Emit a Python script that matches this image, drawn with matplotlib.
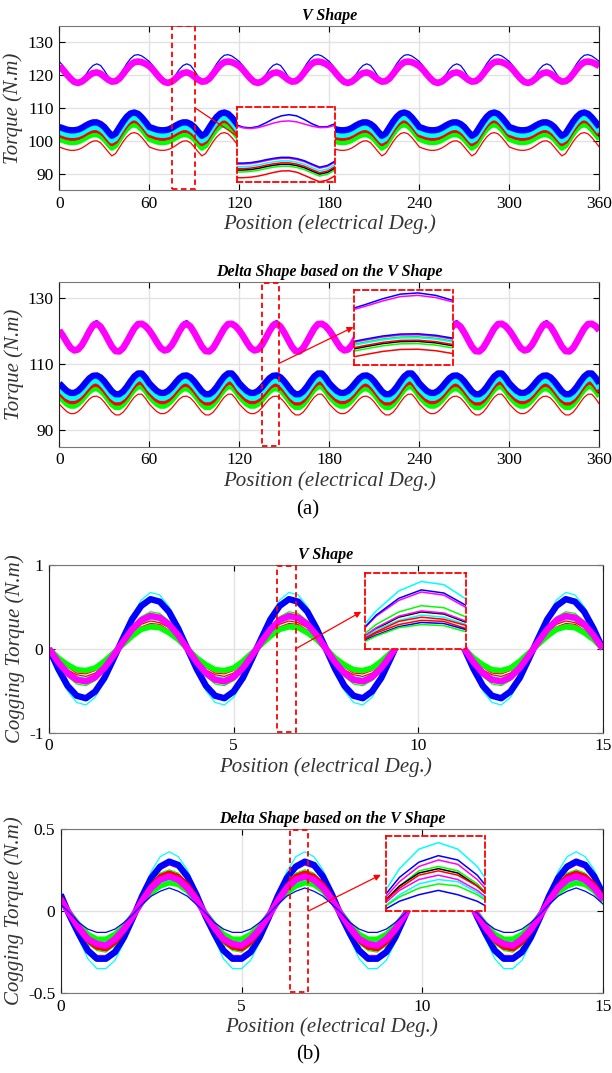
import numpy as np
import matplotlib.pyplot as plt
from matplotlib.patches import Rectangle

plt.rcParams['font.family'] = ['Liberation Serif', 'DejaVu Serif']
plt.rcParams['axes.unicode_minus'] = False

# ---------------- data ----------------
# torque curves: one 60 deg electrical period, read every 2.5 deg (repeats 6x)
# V shape
v_mag_up = [122.7, 121.6, 120.2, 118.9, 117.9, 117.6, 118.0, 118.9, 119.9, 120.6, 120.8, 120.4,
            119.5, 118.6, 118.0, 118.1, 118.9, 120.3, 121.8, 123.1, 123.9, 124.1, 123.9, 123.4]
v_blue_up = [124.1, 122.8, 121.1, 119.4, 118.2, 117.9, 118.5, 120.0, 121.7, 122.9, 123.4, 122.9,
             121.4, 119.6, 118.3, 118.4, 119.6, 121.6, 123.5, 125.0, 126.0, 126.2, 125.8, 125.0]
v_blue = [104.2, 103.8, 103.4, 103.2, 103.2, 103.4, 103.9, 104.6, 105.2, 105.6, 105.6, 105.1,
          104.2, 102.8, 101.5, 102.2, 104.0, 105.8, 107.3, 108.3, 108.6, 108.2, 107.1, 105.7]
v_mag_lo = [103.8, 103.4, 103.0, 102.8, 102.8, 103.0, 103.5, 104.2, 104.8, 105.2, 105.2, 104.7,
            103.8, 102.4, 101.1, 101.8, 103.6, 105.4, 106.9, 107.9, 108.2, 107.8, 106.7, 105.3]
v_cyan = [102.7, 102.3, 101.9, 101.7, 101.7, 101.9, 102.4, 103.1, 103.7, 104.1, 104.1, 103.6,
          102.7, 101.3, 100.0, 100.7, 102.5, 104.3, 105.8, 106.8, 107.1, 106.7, 105.6, 104.2]
v_red = [101.9, 101.5, 101.1, 100.9, 100.9, 101.1, 101.6, 102.3, 102.9, 103.3, 103.3, 102.8,
         101.9, 100.5, 99.2, 99.9, 101.7, 103.5, 105.0, 106.0, 106.3, 105.9, 104.8, 103.4]
v_black = [101.3, 100.9, 100.5, 100.3, 100.3, 100.5, 101.0, 101.7, 102.3, 102.7, 102.7, 102.2,
           101.3, 99.9, 98.6, 99.3, 101.1, 102.9, 104.4, 105.4, 105.7, 105.3, 104.2, 102.8]
v_green = [100.5, 100.1, 99.7, 99.5, 99.5, 99.7, 100.2, 100.9, 101.5, 101.9, 101.9, 101.4,
           100.5, 99.1, 97.8, 98.5, 100.3, 102.1, 103.6, 104.6, 104.9, 104.5, 103.4, 102.0]
v_red_thin = [98.1, 97.7, 97.3, 97.1, 97.1, 97.3, 97.8, 98.5, 99.3, 99.9, 100.0, 99.4,
              98.1, 96.7, 95.4, 96.1, 97.9, 99.7, 101.2, 102.2, 102.5, 102.1, 101.0, 99.6]

# Delta shape based on the V shape
d_mag_up = [120.3, 118.6, 116.7, 115.0, 114.2, 114.5, 115.8, 117.8, 120.0, 121.8, 122.3, 121.4,
            119.6, 117.5, 115.4, 114.0, 113.9, 114.9, 116.8, 118.9, 120.9, 122.2, 122.3, 121.6]
d_blue_up = [120.6, 118.9, 117.0, 115.3, 114.6, 114.9, 116.3, 118.5, 120.9, 122.8, 123.3, 122.3,
             120.2, 117.9, 115.7, 114.3, 114.2, 115.2, 117.1, 119.2, 121.2, 122.5, 122.6, 121.9]
d_blue = [104.2, 103.0, 101.9, 101.3, 101.3, 101.9, 103.0, 104.4, 105.7, 106.5, 106.6, 106.0,
          104.8, 103.3, 101.8, 100.9, 100.9, 101.7, 103.1, 104.8, 106.3, 107.2, 107.2, 105.9]
d_mag_lo = [103.8, 102.6, 101.5, 100.9, 100.9, 101.5, 102.6, 104.0, 105.3, 106.1, 106.2, 105.6,
            104.4, 102.9, 101.4, 100.5, 100.5, 101.3, 102.7, 104.4, 105.9, 106.8, 106.8, 105.5]
d_green_thin = [103.0, 101.8, 100.7, 100.1, 100.1, 100.7, 101.8, 103.2, 104.5, 105.3, 105.4, 104.8,
                103.6, 102.1, 100.6, 99.7, 99.7, 100.5, 101.9, 103.6, 105.1, 106.0, 106.0, 104.7]
d_cyan = [102.6, 101.4, 100.3, 99.7, 99.7, 100.3, 101.4, 102.8, 104.1, 104.9, 105.0, 104.4,
          103.2, 101.7, 100.2, 99.3, 99.3, 100.1, 101.5, 103.2, 104.7, 105.6, 105.6, 104.3]
d_red = [101.6, 100.4, 99.3, 98.7, 98.7, 99.3, 100.4, 101.8, 103.1, 103.9, 104.0, 103.4,
         102.2, 100.7, 99.2, 98.3, 98.3, 99.1, 100.5, 102.2, 103.7, 104.6, 104.6, 103.3]
d_black = [101.1, 99.9, 98.8, 98.2, 98.2, 98.8, 99.9, 101.3, 102.6, 103.4, 103.5, 102.9,
           101.7, 100.2, 98.7, 97.8, 97.8, 98.6, 100.0, 101.7, 103.2, 104.1, 104.1, 102.8]
d_green = [100.2, 99.0, 97.9, 97.3, 97.3, 97.9, 99.0, 100.4, 101.7, 102.5, 102.6, 102.0,
           100.8, 99.3, 97.8, 96.9, 96.9, 97.7, 99.1, 100.8, 102.3, 103.2, 103.2, 101.9]
d_red_thin = [97.9, 96.7, 95.6, 95.0, 95.0, 95.6, 96.7, 98.1, 99.4, 100.2, 100.3, 99.7,
              98.5, 97.0, 95.5, 94.6, 94.6, 95.4, 96.8, 98.5, 100.0, 100.9, 100.9, 99.6]

# cogging torque: one 3.75 deg period, read every 0.25 deg (repeats 4x)
cv_cyan_out = [0, -0.27, -0.50, -0.64, -0.67, -0.58, -0.39, -0.14, 0.14, 0.39, 0.58, 0.67, 0.64, 0.50, 0.27]
cv_blue = [0, -0.24, -0.44, -0.56, -0.59, -0.51, -0.35, -0.12, 0.12, 0.35, 0.51, 0.59, 0.56, 0.44, 0.24]
cv_mag_thin = [0, -0.23, -0.42, -0.54, -0.57, -0.49, -0.34, -0.12, 0.12, 0.34, 0.49, 0.57, 0.54, 0.42, 0.23]
cv_green_thin = [0, -0.18, -0.33, -0.42, -0.44, -0.38, -0.26, -0.09, 0.09, 0.26, 0.38, 0.44, 0.42, 0.33, 0.18]
cv_black = [0, -0.15, -0.28, -0.36, -0.38, -0.33, -0.22, -0.08, 0.08, 0.22, 0.33, 0.38, 0.36, 0.28, 0.15]
cv_cyan_thin = [0, -0.14, -0.26, -0.33, -0.35, -0.30, -0.21, -0.07, 0.07, 0.21, 0.30, 0.35, 0.33, 0.26, 0.14]
cv_red1 = [0, -0.13, -0.25, -0.31, -0.33, -0.29, -0.19, -0.07, 0.07, 0.19, 0.29, 0.33, 0.31, 0.25, 0.13]
cv_red2 = [0, -0.12, -0.22, -0.29, -0.30, -0.26, -0.18, -0.06, 0.06, 0.18, 0.26, 0.30, 0.29, 0.22, 0.12]
cv_blue_thin = [0, -0.11, -0.21, -0.27, -0.28, -0.24, -0.16, -0.06, 0.06, 0.16, 0.24, 0.28, 0.27, 0.21, 0.11]
cv_green = [0, -0.11, -0.19, -0.25, -0.26, -0.23, -0.15, -0.05, 0.05, 0.15, 0.23, 0.26, 0.25, 0.19, 0.11]
cv_mag = [0, -0.16, -0.29, -0.37, -0.39, -0.34, -0.23, -0.08, 0.08, 0.23, 0.34, 0.39, 0.37, 0.29, 0.16]

cd_cyan_out = [0.12, -0.03, -0.17, -0.29, -0.35, -0.35, -0.30, -0.19, -0.05, 0.10, 0.24, 0.33, 0.36, 0.33, 0.25]
cd_blue = [0.10, -0.03, -0.14, -0.24, -0.29, -0.29, -0.25, -0.16, -0.04, 0.09, 0.20, 0.27, 0.30, 0.28, 0.21]
cd_mag_thin = [0.09, -0.02, -0.13, -0.22, -0.27, -0.27, -0.23, -0.15, -0.04, 0.08, 0.18, 0.25, 0.28, 0.26, 0.19]
cd_green_thin = [0.08, -0.02, -0.12, -0.20, -0.24, -0.25, -0.21, -0.13, -0.03, 0.07, 0.16, 0.23, 0.25, 0.23, 0.17]
cd_black = [0.08, -0.02, -0.12, -0.19, -0.23, -0.24, -0.20, -0.12, -0.03, 0.07, 0.16, 0.22, 0.24, 0.22, 0.16]
cd_red = [0.08, -0.02, -0.11, -0.18, -0.22, -0.23, -0.19, -0.12, -0.03, 0.07, 0.15, 0.21, 0.23, 0.21, 0.16]
cd_cyan = [0.06, -0.02, -0.09, -0.15, -0.19, -0.19, -0.16, -0.10, -0.02, 0.05, 0.12, 0.17, 0.19, 0.18, 0.13]
cd_green = [0.06, -0.01, -0.08, -0.14, -0.17, -0.17, -0.14, -0.09, -0.02, 0.05, 0.11, 0.15, 0.17, 0.16, 0.12]
cd_mag = [0.07, -0.02, -0.10, -0.17, -0.20, -0.21, -0.17, -0.11, -0.03, 0.06, 0.14, 0.19, 0.21, 0.19, 0.14]
cd_blue_thin = [0.04, -0.01, -0.07, -0.11, -0.13, -0.13, -0.11, -0.07, -0.02, 0.04, 0.09, 0.12, 0.14, 0.12, 0.09]

pos_t = np.arange(0, 360.01, 2.5)
pos_c = np.arange(0, 15.001, 0.25)


def rep(vals, n):
    v = np.asarray(vals, float)
    return np.append(np.tile(v, n), v[0])


B, M, C, R, G, K = '#0000ff', '#ff00ff', '#00ffff', '#ff0000', '#00ff00', 'black'
thin, thick = 0.9, 4.0

panel_a1 = [(v_red_thin, R, thin), (v_green, G, thick), (v_black, K, thin), (v_red, R, thick),
            (v_cyan, C, thick), (v_mag_lo, M, thin), (v_blue, B, 4.6),
            (v_blue_up, B, thin), (v_mag_up, M, 4.8)]
panel_a2 = [(d_red_thin, R, thin), (d_green, G, thick), (d_black, K, thin), (d_red, R, thick),
            (d_green_thin, G, thin), (d_cyan, C, thick), (d_mag_lo, M, thin), (d_blue, B, 4.6),
            (d_blue_up, B, thin), (d_mag_up, M, 4.8)]
panel_b1 = [(cv_cyan_out, C, thin), (cv_mag_thin, M, thin), (cv_blue, B, 4.6),
            (cv_green_thin, G, thin), (cv_black, K, thin), (cv_cyan_thin, C, thin),
            (cv_red1, R, thin), (cv_red2, R, thin), (cv_blue_thin, B, thin),
            (cv_green, G, thick), (cv_mag, M, 4.6)]
panel_b2 = [(cd_cyan_out, C, thin), (cd_mag_thin, M, thin), (cd_blue, B, 4.6),
            (cd_green_thin, G, thin), (cd_black, K, thin), (cd_red, R, 3.6),
            (cd_cyan, C, 3.4), (cd_green, G, 3.6), (cd_mag, M, 4.6), (cd_blue_thin, B, thin)]

fig = plt.figure(figsize=(6.12, 10.73), dpi=100)
H = 1073.0
W = 612.0


def make_ax(l, r, t, b):
    return fig.add_axes([l / W, 1 - b / H, (r - l) / W, (b - t) / H])


def style(ax, title, ylabel, xlim, ylim, xticks, yticks, yticklabels=None):
    ax.set_xlim(xlim)
    ax.set_ylim(ylim)
    ax.set_xticks(xticks)
    ax.set_yticks(yticks)
    if yticklabels is not None:
        ax.set_yticklabels(yticklabels)
    ax.grid(True, color='#e2e2e2', lw=1.0)
    ax.set_axisbelow(True)
    ax.tick_params(direction='in', top=True, right=True, length=4, width=0.8, labelsize=12.5, pad=4)
    for s in ['left', 'right']:
        ax.spines[s].set_color('#222222')
    for s in ['top', 'bottom']:
        ax.spines[s].set_color('#777777')
    ax.set_title(title, fontsize=11.5, fontweight='bold', style='italic', pad=4)
    ax.set_xlabel('Position (electrical Deg.)', fontsize=15, style='italic', color='#333333', labelpad=2)
    ax.set_ylabel(ylabel, fontsize=15, style='italic', color='#333333', labelpad=3)


def add_zoom(ax, x, curves, nrep, rect, bounds, xlim, ylim, start, end, head=True):
    for vals, col, lw in curves:
        ax.plot(x, rep(vals, nrep), color=col, lw=lw, solid_capstyle='butt')
    ax.add_patch(Rectangle(rect[:2], rect[2], rect[3], fill=False, edgecolor='red',
                           linestyle=(0, (3, 2)), lw=1.3, zorder=6))
    ins = ax.inset_axes(bounds, transform=ax.transData, zorder=7)
    for vals, col, lw in curves:
        ins.plot(x, rep(vals, nrep), color=col, lw=1.1)
    ins.set_xlim(xlim)
    ins.set_ylim(ylim)
    ins.set_xticks([])
    ins.set_yticks([])
    for s in ins.spines.values():
        s.set_edgecolor('red')
        s.set_linestyle((0, (3, 2)))
        s.set_linewidth(1.3)
    ax.annotate('', xy=end, xytext=start, zorder=8,
                arrowprops=dict(arrowstyle='-|>' if head else '-', color='red', lw=0.9,
                                mutation_scale=9, shrinkA=0, shrinkB=0))


# (a) torque
ax1 = make_ax(59.3, 599.3, 25.7, 190.1)
add_zoom(ax1, pos_t, panel_a1, 6, (75, 85.2, 15.5, 49.6), [118.3, 87.6, 65.5, 22.6],
         (68, 100), (95.5, 126.5), (90.5, 110.0), (118.3, 101.5), head=False)
style(ax1, 'V Shape', 'Torque (N.m)', (0, 360), (85, 135), range(0, 361, 60), range(90, 131, 10))

ax2 = make_ax(59.3, 599.3, 282.0, 446.5)
add_zoom(ax2, pos_t, panel_a2, 6, (135, 85.2, 11.7, 49.6), [196.7, 109.8, 66, 22.7],
         (136, 150), (93.9, 124.4), (146.7, 110.3), (196.1, 121.3))
style(ax2, 'Delta Shape based on the V Shape', 'Torque (N.m)', (0, 360), (85, 135),
      range(0, 361, 60), [90, 110, 130])

# (b) cogging torque
ax3 = make_ax(49.0, 602.7, 564.7, 732.7)
add_zoom(ax3, pos_c, panel_b1, 4, (6.17, -0.99, 0.52, 1.98), [8.57, 0.0, 2.74, 0.9],
         (5.88, 7.0), (0.03, 0.75), (6.69, 0.0), (8.46, 0.44))
style(ax3, 'V Shape', 'Cogging Torque (N.m)', (0, 15), (-1, 1), [0, 5, 10, 15], [-1, 0, 1])

ax4 = make_ax(60.7, 603.3, 828.7, 993.3)
add_zoom(ax4, pos_c, panel_b2, 4, (6.33, -0.495, 0.52, 0.99), [9.0, 0.0, 2.73, 0.455],
         (6.08, 7.35), (0.045, 0.39), (6.85, 0.0), (8.85, 0.22))
style(ax4, 'Delta Shape based on the V Shape', 'Cogging Torque (N.m)', (0, 15), (-0.5, 0.5),
      [0, 5, 10, 15], [-0.5, 0, 0.5], ['-0.5', '0', '0.5'])

fig.text(308 / W, 1 - 510 / H, '(a)', ha='center', va='center', fontsize=15)
fig.text(308 / W, 1 - 1055 / H, '(b)', ha='center', va='center', fontsize=15)

fig.savefig('out.png', dpi=100)
